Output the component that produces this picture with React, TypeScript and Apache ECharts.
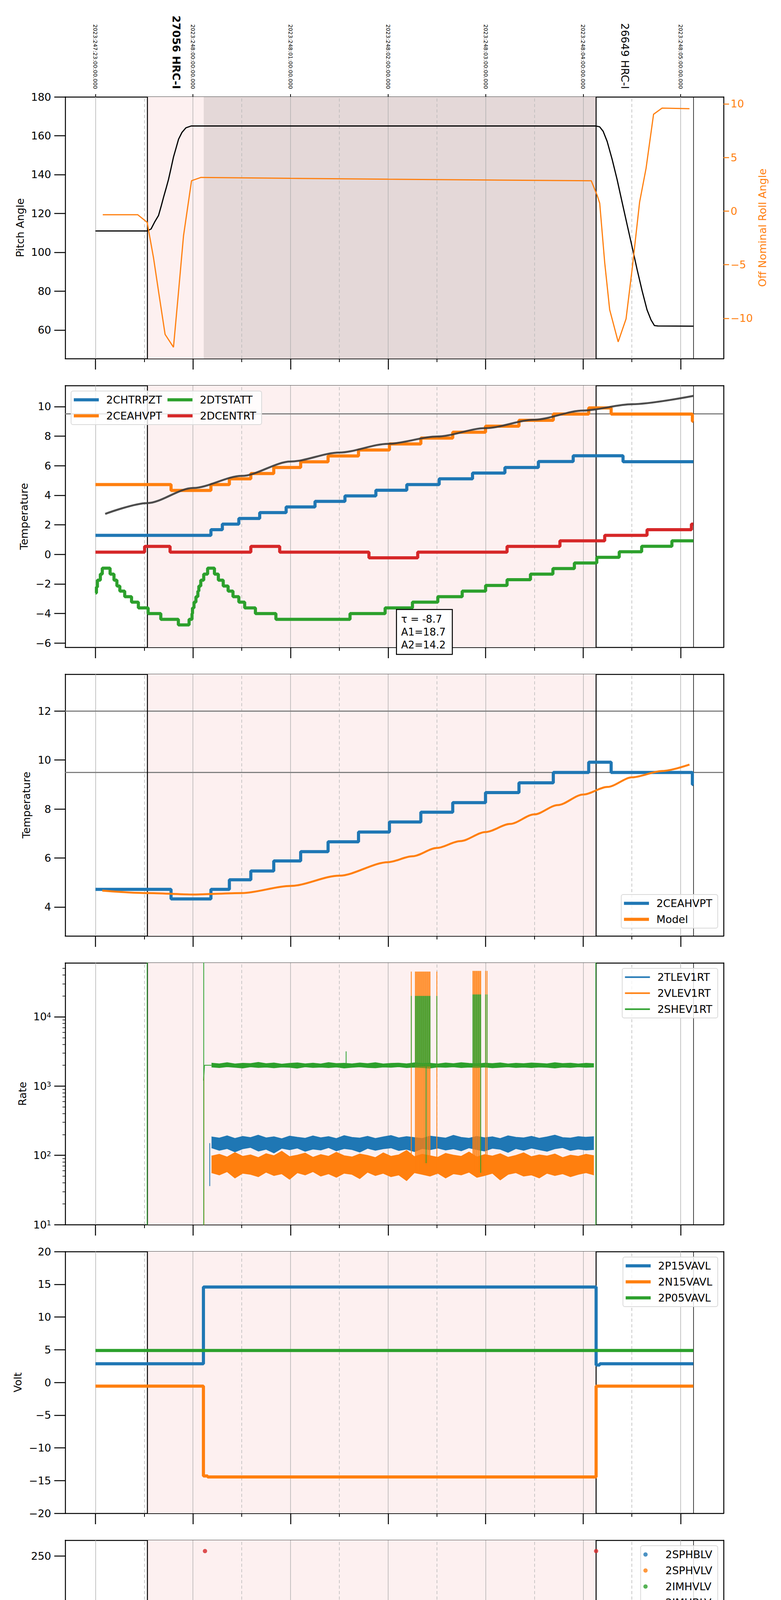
import React, { useEffect, useRef } from "react";
import * as echarts from "echarts";

const FONT = "DejaVu Sans";
const BLUE = "#1f77b4";
const ORANGE = "#ff7f0e";
const GREEN = "#2ca02c";
const RED = "#d62728";
const PINK = "#fdf0f0";
const MAUVE = "#e4d8d8";

// time axis: local hours, 24 = 00h of the next day
const X_MIN = 18.69;
const X_MAX = 25.44;
const hourTicks = [19, 20, 21, 22, 23, 24, 25];
const halfTicks = [19.5, 20.5, 21.5, 22.5, 23.5, 24.5];
const utcLabels = [
  "2023:247:23:00:00.000",
  "2023:248:00:00:00.000",
  "2023:248:01:00:00.000",
  "2023:248:02:00:00.000",
  "2023:248:03:00:00.000",
  "2023:248:04:00:00.000",
  "2023:248:05:00:00.000",
];
const obsLabelTimes = [19.83, 24.43];
const obsLabels = ["27056 HRC-I", "26649 HRC-I"];
const obsBold = [true, false];
const OBS_START = 19.53;
const OBS_END = 24.13;
const HRC_ON = 20.11;
const DATA_END = 25.13;

// panel 1: pitch / roll
const pitch = [
  [19.0, 111], [19.53, 111], [19.57, 112], [19.606, 115.5], [19.647, 119], [19.673, 123.6], [19.698, 128.3],
  [19.724, 132.9], [19.749, 137.5], [19.775, 143.3], [19.8, 149], [19.826, 153.6], [19.852, 158.2], [19.887, 161.7],
  [19.928, 164.1], [19.98, 165], [24.133, 165], [24.169, 164.6], [24.205, 162.3], [24.246, 157.1], [24.297, 147.9],
  [24.348, 137.5], [24.399, 125.9], [24.45, 114.4], [24.502, 102.8], [24.553, 91.2], [24.604, 80.3], [24.655, 70.4],
  [24.696, 65.2], [24.731, 62.3], [24.767, 62.1], [25.13, 62],
];
const roll = [
  [19.075, -0.34], [19.433, -0.34], [19.53, -1.05], [19.596, -4.4], [19.647, -7.5], [19.714, -11.5], [19.8, -12.7],
  [19.852, -7.5], [19.903, -2.3], [19.985, 2.83], [20.082, 3.14], [21.0, 3.05], [22.0, 2.97], [23.0, 2.9], [24.083, 2.83],
  [24.144, 1.46], [24.17, 0.73], [24.221, -4.8], [24.272, -9.2], [24.359, -12.2], [24.44, -10.05], [24.502, -5.44],
  [24.579, 0.84], [24.645, 3.98], [24.722, 9.03], [24.809, 9.6], [25.09, 9.55],
];

// panel 2 / 3: temperatures (step series)
const chtrpzt = [
  [19.0, 1.29], [20.184, 1.67], [20.301, 2.05], [20.47, 2.43], [20.684, 2.83], [20.955, 3.21], [21.251, 3.59],
  [21.558, 3.96], [21.875, 4.34], [22.192, 4.72], [22.524, 5.11], [22.866, 5.5], [23.198, 5.88], [23.541, 6.28],
  [23.898, 6.67], [24.409, 6.27], [25.13, 6.27],
];
const ceahvpt = [
  [19.0, 4.72], [19.775, 4.33], [20.184, 4.72], [20.373, 5.11], [20.593, 5.47], [20.828, 5.88], [21.104, 6.26],
  [21.385, 6.66], [21.697, 7.06], [22.014, 7.47], [22.336, 7.87], [22.663, 8.26], [22.999, 8.67], [23.342, 9.07],
  [23.694, 9.49], [24.057, 9.91], [24.287, 9.49], [25.12, 9.0], [25.13, 9.0],
];
const dtstatt = [
  [19.0, -2.61], [19.01, -2.21], [19.02, -1.74], [19.05, -1.33], [19.07, -0.93], [19.15, -1.33], [19.19, -1.74],
  [19.22, -2.14], [19.25, -2.48], [19.3, -2.86], [19.37, -3.23], [19.44, -3.62], [19.54, -4.0], [19.67, -4.39],
  [19.85, -4.77], [19.96, -4.39], [19.99, -4.0], [19.995, -3.62], [20.01, -3.23], [20.03, -2.86], [20.05, -2.48],
  [20.06, -2.14], [20.08, -1.74], [20.11, -1.33], [20.15, -0.93], [20.22, -1.33], [20.26, -1.74], [20.31, -2.14],
  [20.36, -2.48], [20.41, -2.86], [20.47, -3.23], [20.53, -3.62], [20.64, -4.0], [20.85, -4.39], [21.61, -4.0],
  [21.97, -3.62], [22.25, -3.23], [22.51, -2.86], [22.76, -2.48], [23.0, -2.1], [23.22, -1.71], [23.46, -1.33],
  [23.69, -0.96], [23.91, -0.58], [24.14, -0.2], [24.37, 0.18], [24.6, 0.55], [24.91, 0.92], [25.13, 0.92],
];
const dcentrt = [
  [19.0, 0.15], [19.504, 0.54], [19.765, 0.15], [20.593, 0.54], [20.889, 0.15], [21.804, -0.23], [22.304, 0.15],
  [23.22, 0.54], [23.762, 0.92], [24.221, 1.29], [24.655, 1.67], [25.11, 2.05], [25.13, 2.05],
];
const ceaFit = [
  [19.1, 2.74], [19.53, 3.47], [20.0, 4.49], [20.5, 5.31], [21.0, 6.28], [21.5, 6.89], [22.0, 7.48], [22.5, 7.97],
  [23.0, 8.54], [23.5, 9.11], [24.0, 9.73], [24.5, 10.16], [25.13, 10.72],
];
const ceaModel = [
  [19.07, 4.67], [19.53, 4.57], [20.0, 4.51], [20.5, 4.57], [21.0, 4.86], [21.5, 5.28], [22.0, 5.83], [22.25, 6.07],
  [22.5, 6.41], [22.74, 6.69], [23.0, 7.06], [23.25, 7.39], [23.5, 7.78], [23.74, 8.16], [24.0, 8.59], [24.25, 8.9],
  [24.5, 9.29], [24.81, 9.55], [25.09, 9.81],
];
const fitText = "τ = -8.7\nA1=18.7\nA2=14.2";

// panel 4: rates (noise bands as envelopes)
const bandTimes = [
  20.19, 20.27, 20.35, 20.43, 20.51, 20.59, 20.67, 20.75, 20.83, 20.91, 20.99, 21.07, 21.15, 21.23, 21.31, 21.39, 21.47,
  21.55, 21.63, 21.71, 21.79, 21.87, 21.95, 22.03, 22.11, 22.19, 22.27, 22.35, 22.43, 22.51, 22.59, 22.67, 22.75, 22.83,
  22.91, 22.99, 23.07, 23.15, 23.23, 23.31, 23.39, 23.47, 23.55, 23.63, 23.71, 23.79, 23.87, 23.95, 24.03, 24.11,
];
const tlevHi = [185, 178, 192, 176, 188, 181, 196, 179, 186, 174, 190, 183, 177, 191, 180, 187, 175, 193, 182, 178, 189, 176, 185, 194, 179, 187, 181, 176, 190, 184, 178, 195, 182, 177, 188, 180, 186, 175, 192, 183, 179, 189, 177, 185, 196, 181, 178, 187, 183, 186];
const tlevLo = [128, 118, 125, 112, 124, 130, 115, 122, 108, 126, 120, 127, 114, 123, 119, 129, 116, 125, 121, 111, 126, 118, 124, 128, 117, 122, 113, 125, 120, 127, 119, 124, 116, 128, 121, 115, 126, 122, 110, 125, 118, 127, 120, 114, 124, 129, 117, 123, 119, 121];
const vlevHi = [98, 104, 95, 110, 97, 102, 93, 106, 99, 115, 96, 101, 108, 94, 103, 97, 111, 99, 95, 105, 100, 93, 109, 97, 102, 118, 96, 104, 99, 94, 107, 101, 97, 112, 95, 103, 98, 106, 94, 100, 109, 96, 102, 98, 105, 93, 101, 97, 104, 99];
const vlevLo = [56, 52, 58, 47, 55, 53, 49, 57, 51, 54, 45, 56, 52, 58, 50, 54, 48, 55, 53, 46, 57, 51, 55, 49, 52, 43, 56, 53, 50, 55, 47, 54, 52, 57, 48, 51, 55, 44, 53, 56, 50, 52, 47, 55, 51, 54, 49, 53, 56, 52];
const shevHi = [2150, 2100, 2180, 2090, 2140, 2120, 2200, 2110, 2160, 2080, 2130, 2170, 2100, 2150, 2090, 2190, 2120, 2140, 2100, 2160, 2110, 2180, 2090, 2130, 2150, 2100, 2170, 2120, 2140, 2090, 2160, 2110, 2180, 2130, 2100, 2150, 2120, 2170, 2090, 2140, 2110, 2160, 2130, 2100, 2180, 2120, 2150, 2090, 2140, 2110];
const shevLo = [1880, 1840, 1900, 1860, 1820, 1890, 1850, 1870, 1830, 1880, 1860, 1810, 1890, 1850, 1870, 1840, 1880, 1820, 1860, 1890, 1850, 1830, 1880, 1860, 1900, 1840, 1870, 1850, 1820, 1880, 1860, 1890, 1840, 1870, 1850, 1880, 1830, 1860, 1890, 1850, 1870, 1840, 1880, 1860, 1820, 1870, 1850, 1890, 1860, 1880];
const rateMinorTicks = [20, 30, 40, 50, 60, 70, 80, 90, 200, 300, 400, 500, 600, 700, 800, 900, 2000, 3000, 4000, 5000, 6000, 7000, 8000, 9000, 20000, 30000, 40000, 50000];
// disturbance bursts (spike times, hours)
const burst1 = [22.238, 22.28, 22.29, 22.3, 22.31, 22.32, 22.33, 22.34, 22.35, 22.36, 22.37, 22.38, 22.39, 22.4, 22.41, 22.42, 22.43, 22.5];
const burst2 = [22.87, 22.88, 22.89, 22.9, 22.91, 22.92, 22.93, 22.94, 22.95, 23.0, 23.015];
const tlevSpikes = [[20.172, 36, 150]];
const vlevSpikes = [[20.112, 1, 1700]];
const shevSpikes = [[19.53, 1, 1e6], [20.11, 1, 1e6], [24.13, 1, 1e6], [21.57, 1900, 3170], [22.39, 77, 1900], [22.95, 56, 1900]];
const shevRise = [[20.108, 1200], [20.118, 2000], [20.19, 2000]];

// panel 5: voltages
const p15 = [[19.0, 2.85], [20.107, 14.58], [24.133, 2.65], [24.17, 2.85], [25.13, 2.85]];
const n15 = [[19.0, -0.56], [20.107, -14.3], [20.15, -14.45], [24.133, -0.56], [25.13, -0.56]];
const p05 = [[19.0, 4.88], [25.13, 4.88]];

// panel 6: HV monitors
const sphblv: number[][] = [];
const sphvlv: number[][] = [];
const imhvlvLevel = [[20.184, 79], [24.133, 79]];
const imhvlvPts = [[20.133, 100], [20.143, 95], [20.154, 90], [20.164, 86], [20.174, 83], [20.184, 80], [22.243, 127], [22.319, 127], [22.35, 127], [22.411, 127], [23.014, 127]];
const imhblvLevel = [[20.19, 86], [24.133, 86]];
const imhblvPts = [[20.123, 255], [24.133, 255], [20.133, 127], [20.135, 119], [20.138, 106], [20.149, 101], [20.158, 97], [20.164, 94], [20.174, 90], [20.184, 87], [22.243, 79], [22.319, 79], [22.35, 79], [22.411, 79], [23.014, 79]];

// panel 7: detector temps
const spinatm = [
  [20.13, -3], [20.133, 7.5], [20.158, 8.02], [20.2, 7.51], [20.23, 7.0], [20.26, 6.49], [20.29, 5.98], [20.332, 5.54],
  [20.373, 5.08], [20.429, 4.62], [20.505, 4.16], [20.603, 3.69], [20.756, 3.24], [21.078, 2.8], [22.243, 3.24],
  [23.143, 3.69], [23.812, 4.16], [24.133, -3],
];
const sphvatm = [
  [20.105, -3], [20.107, 14.15], [20.158, 13.88], [20.552, 14.15], [20.91, 14.44], [21.206, 14.7], [21.487, 14.99],
  [21.768, 15.27], [22.059, 15.55], [22.304, 15.82], [22.601, 16.1], [22.866, 16.38], [23.143, 16.67], [23.44, 16.96],
  [23.745, 17.24], [24.041, 17.53], [24.133, -3],
];
const iminatm = [[20.105, -3], [20.107, 0.66], [21.283, 1.1], [22.535, 1.53], [23.44, 1.94], [24.133, -3]];
const imhvatm = [
  [20.105, -3], [20.107, 13.34], [20.235, 13.6], [20.363, 13.88], [20.449, 14.15], [20.567, 14.44], [20.669, 14.7],
  [20.797, 14.99], [20.925, 15.27], [21.078, 15.55], [21.242, 15.82], [21.41, 16.1], [21.64, 16.38], [21.87, 16.67],
  [22.125, 16.96], [22.329, 17.24], [22.61, 17.53], [22.866, 17.86], [23.133, 18.13], [23.429, 18.4], [23.725, 18.7],
  [24.031, 18.99], [24.133, -3],
];

// panel 8: FEA temps
const fhtrmzt = [
  [20.32, -12], [20.322, -9.22], [20.439, -8.78], [20.552, -8.38], [20.669, -7.97], [20.782, -7.57], [20.889, -7.16],
  [21.006, -6.77], [21.119, -6.37], [21.242, -5.96], [21.359, -5.58], [21.471, -5.19], [21.589, -4.81], [21.717, -4.42],
  [21.844, -4.03], [21.988, -3.65], [22.115, -3.26], [22.243, -2.87], [22.45, -2.49], [22.509, -2.1], [22.647, -1.74],
  [22.79, -1.35], [22.928, -0.97], [23.076, -0.61], [23.23, -0.22], [23.373, 0.15], [23.521, 0.52], [23.694, 0.91],
  [23.852, 1.28], [24.016, 1.66], [24.195, 2.05], [24.629, 1.66], [24.87, 1.3], [25.1, 0.91], [25.13, 0.91],
];
const fradpyt = [
  [20.69, -12], [20.695, -9.22], [20.813, -8.79], [20.93, -8.4], [21.052, -7.99], [21.17, -7.58], [21.298, -7.18],
  [21.42, -6.79], [21.548, -6.39], [21.681, -5.99], [21.819, -5.6], [21.957, -5.2], [22.1, -4.81], [22.243, -4.43],
  [22.391, -4.03], [22.535, -3.65], [22.677, -3.26], [22.83, -2.87], [22.979, -2.5], [23.133, -2.12], [23.297, -1.74],
  [23.465, -1.37], [23.623, -0.98], [23.802, -0.61], [23.98, -0.23], [24.169, 0.15], [24.629, -0.23], [24.706, -0.61],
  [24.793, -0.98], [24.885, -1.37], [25.003, -1.75], [25.13, -1.75],
];
const fepratm = [
  [20.12, -12], [20.123, -8.67], [20.149, -8.23], [20.209, -7.82], [20.26, -7.41], [20.317, -7.0], [20.378, -6.6],
  [20.444, -6.2], [20.505, -5.79], [20.567, -5.38], [20.659, -5.0], [20.772, -4.61], [20.874, -4.2], [20.986, -3.8],
  [21.104, -3.4], [21.221, -3.0], [21.344, -2.6], [21.476, -2.22], [21.599, -1.83], [21.742, -1.43], [21.88, -1.04],
  [22.024, -0.64], [22.161, -0.24], [22.304, 0.1], [22.458, 0.4], [22.509, 0.7], [22.636, 1.08], [22.815, 1.52],
  [22.994, 1.93], [23.143, 2.36], [23.322, 2.82], [23.516, 3.27], [23.705, 3.72], [23.898, 4.15], [24.133, -12],
];
const fe00atm = [
  [20.105, -12], [20.107, -7.85], [20.2, -7.46], [20.311, -7.07], [20.388, -6.72], [20.475, -6.35], [20.557, -5.96],
  [20.644, -5.58], [20.756, -5.24], [20.848, -4.9], [20.991, -4.52], [21.078, -4.18], [21.18, -3.79], [21.257, -3.45],
  [21.369, -3.12], [21.446, -2.78], [21.548, -2.44], [21.65, -2.1], [21.768, -1.76], [21.855, -1.43], [21.972, -1.11],
  [22.074, -0.77], [22.176, -0.43], [22.304, -0.12], [22.406, 0.5], [22.458, 0.79], [22.636, 1.13], [22.713, 1.47],
  [22.815, 1.76], [22.994, 2.07], [23.092, 2.36], [23.21, 2.68], [23.322, 2.97], [23.434, 3.25], [23.572, 3.54],
  [23.694, 3.8], [23.837, 4.1], [24.0, 4.4], [24.133, -12],
];
const fhtrSpikes = [[20.593, -12, -8.38], [20.838, -12, -7.57], [22.447, -2.87, -1.7], [23.516, 0.15, 0.9]];
const feSpikes = [[22.391, -20, 10]];

const GRID_TOPS = [248, 987, 1726, 2465, 3204, 3943, 4682, 5421];
const GRID_LEFT = 167;
const GRID_W = 1686;
const GRID_H = 670;

const minus = (v: number, digits = 0) => {
  const s = Math.abs(v).toFixed(digits);
  return v < 0 ? "\u2212" + s : s;
};
const near = (arr: number[], v: number) => arr.findIndex((a) => Math.abs(a - v) < 1e-6);
const fmtHour = (v: number) => {
  const h = Math.round(v) % 24;
  return (h < 10 ? "0" : "") + h + "h";
};

const spikes = (list: number[][]) => list.flatMap(([t, lo, hi]) => [[t, lo], [t, hi], [t, "-"]]);
const burst = (times: number[], lo: number, hi: number) => times.map((t) => [t, lo, hi]);

const BLACK_LINE = { color: "#000", width: 2.5 };

function leftAxis(g: number, name: string, min: number, max: number, ticks: number[], nameGap: number, digits = 0): any {
  return {
    type: "value", gridIndex: g, position: "left", min, max,
    name, nameLocation: "middle", nameGap,
    nameTextStyle: { fontSize: 27, color: "#000", fontFamily: FONT },
    axisLine: { show: true, onZero: false, lineStyle: BLACK_LINE },
    axisTick: { show: true, inside: false, length: 28, customValues: ticks, lineStyle: BLACK_LINE },
    axisLabel: { show: true, customValues: ticks, margin: 36, fontSize: 27, color: "#000", fontFamily: FONT, formatter: (v: number) => minus(v, digits) },
    splitLine: { show: false },
  };
}
function rightSpine(g: number): any {
  return {
    type: "value", gridIndex: g, position: "right", min: 0, max: 1,
    axisLine: { show: true, onZero: false, lineStyle: BLACK_LINE },
    axisTick: { show: false }, axisLabel: { show: false }, splitLine: { show: false },
  };
}

function frame(g: number, hLines: number[] = [], extraAreas: any[] = []): any {
  return {
    type: "line", xAxisIndex: 3 * g, yAxisIndex: 2 * g, data: [], silent: true, z: 1,
    markArea: {
      silent: true, z: 1, label: { show: false },
      data: [[{ xAxis: OBS_START, itemStyle: { color: PINK } }, { xAxis: OBS_END }], ...extraAreas],
    },
    markLine: {
      silent: true, z: 2, symbol: ["none", "none"], label: { show: false }, emphasis: { disabled: true }, animation: false,
      data: [
        ...hourTicks.map((h) => ({ xAxis: h, lineStyle: { color: "#b0b0b0", width: 1.5, type: "solid" } })),
        ...halfTicks.map((h) => ({ xAxis: h, lineStyle: { color: "#b8b8b8", width: 1.5, type: [8, 6] } })),
        ...hLines.map((y) => ({ yAxis: y, lineStyle: { color: "#808080", width: 3, type: "solid" } })),
        { xAxis: OBS_START, lineStyle: { color: "#000", width: 2.5, type: "solid" } },
        { xAxis: OBS_END, lineStyle: { color: "#000", width: 2.5, type: "solid" } },
        { xAxis: DATA_END, lineStyle: { color: "#000", width: 1.5, type: "solid" } },
      ],
    },
  };
}

function line(g: number, name: string, color: string, data: any[], o: any = {}): any {
  return {
    type: "line", name, xAxisIndex: 3 * g, yAxisIndex: o.y ?? 2 * g, data, color,
    symbol: "none", showSymbol: false, step: o.step ?? false, smooth: o.smooth ?? false,
    smoothMonotone: "x", connectNulls: false, clip: true, silent: true, z: o.z ?? 3,
    emphasis: { disabled: true },
    lineStyle: { color, width: o.width ?? 8, opacity: o.opacity ?? 1, cap: o.cap ?? "butt" },
  };
}

// noise band: lower edge + stacked (upper - lower) filled; value column first so it is the stacked one
function band(g: number, name: string, color: string, times: number[], lo: number[], hi: number[], key: string): any[] {
  const enc = { x: 1, y: 0 };
  return [
    { ...line(g, name, color, times.map((t, i) => [lo[i], t]), { width: 1.5 }), stack: key, encode: enc },
    {
      ...line(g, name, color, times.map((t, i) => [hi[i] - lo[i], t]), { width: 1.5 }),
      stack: key, encode: enc, areaStyle: { color, opacity: 1 },
    },
  ];
}

function scatter(g: number, name: string, color: string, data: any[]): any {
  return {
    type: "scatter", name, xAxisIndex: 3 * g, yAxisIndex: 2 * g, data, color, symbolSize: 11,
    itemStyle: { color }, silent: true, z: 4, emphasis: { disabled: true },
  };
}

function buildOption(): any {
  const grid = GRID_TOPS.map((top) => ({ left: GRID_LEFT, top, width: GRID_W, height: GRID_H, outerBoundsMode: "none" }));

  const xAxis: any[] = [];
  GRID_TOPS.forEach((_, g) => {
    const last = g === GRID_TOPS.length - 1;
    xAxis.push({
      type: "value", gridIndex: g, position: "bottom", min: X_MIN, max: X_MAX,
      axisLine: { show: true, onZero: false, lineStyle: BLACK_LINE },
      axisTick: { show: true, length: 28, customValues: hourTicks, lineStyle: BLACK_LINE },
      axisLabel: { show: last, customValues: hourTicks, margin: 36, fontSize: 27, color: "#000", fontFamily: FONT, formatter: fmtHour },
      splitLine: { show: false },
      name: last ? "2023-09-05 (248)" : undefined, nameLocation: "middle", nameGap: 70,
      nameTextStyle: { fontSize: 34, color: "#000", fontFamily: FONT },
    });
    xAxis.push({
      type: "value", gridIndex: g, position: "bottom", min: X_MIN, max: X_MAX,
      axisLine: { show: false, onZero: false },
      axisTick: { show: true, length: 9, customValues: halfTicks, lineStyle: { color: "#000", width: 2 } },
      axisLabel: { show: last, customValues: halfTicks, margin: 8, fontSize: 17, color: "#000", fontFamily: FONT, formatter: () => "30" },
      splitLine: { show: false },
    });
    xAxis.push({
      type: "value", gridIndex: g, position: "top", min: X_MIN, max: X_MAX,
      axisLine: { show: true, onZero: false, lineStyle: BLACK_LINE },
      axisTick: { show: g === 0, length: 7, customValues: hourTicks, lineStyle: { color: "#000", width: 2 } },
      axisLabel: {
        show: g === 0, customValues: hourTicks, rotate: 90, margin: 20, fontSize: 14, color: "#000", fontFamily: FONT,
        formatter: (v: number) => utcLabels[near(hourTicks, v)] ?? "",
      },
      splitLine: { show: false },
    });
  });
  xAxis.push({
    type: "value", gridIndex: 0, position: "top", min: X_MIN, max: X_MAX,
    axisLine: { show: false, onZero: false }, axisTick: { show: false }, splitLine: { show: false },
    axisLabel: {
      show: true, customValues: obsLabelTimes, rotate: 90, margin: 20, color: "#000", fontFamily: FONT,
      formatter: (v: number) => {
        const k = near(obsLabelTimes, v);
        if (k < 0) return "";
        return obsBold[k] ? `{b|${obsLabels[k]}}` : `{n|${obsLabels[k]}}`;
      },
      rich: {
        b: { fontSize: 27, fontWeight: "bold", color: "#000", fontFamily: FONT },
        n: { fontSize: 27, color: "#000", fontFamily: FONT },
      },
    },
  });

  const yAxis: any[] = [
    leftAxis(0, "Pitch Angle", 45.3, 180, [60, 80, 100, 120, 140, 160, 180], 102),
    {
      type: "value", gridIndex: 0, position: "right", min: -13.76, max: 10.65,
      name: "Off Nominal Roll Angle", nameLocation: "middle", nameGap: 86,
      nameTextStyle: { fontSize: 27, color: ORANGE, fontFamily: FONT },
      axisLine: { show: true, onZero: false, lineStyle: BLACK_LINE },
      axisTick: { show: true, length: 14, customValues: [-10, -5, 0, 5, 10], lineStyle: { color: ORANGE, width: 2.5 } },
      axisLabel: { customValues: [-10, -5, 0, 5, 10], margin: 18, fontSize: 27, color: ORANGE, fontFamily: FONT, formatter: (v: number) => minus(v) },
      splitLine: { show: false },
    },
    leftAxis(1, "Temperature", -6.28, 11.42, [-6, -4, -2, 0, 2, 4, 6, 8, 10], 92),
    rightSpine(1),
    leftAxis(2, "Temperature", 2.82, 13.5, [4, 6, 8, 10, 12], 86),
    rightSpine(2),
    {
      type: "log", logBase: 10, gridIndex: 3, position: "left", min: 10, max: 60000,
      name: "Rate", nameLocation: "middle", nameGap: 96,
      nameTextStyle: { fontSize: 27, color: "#000", fontFamily: FONT },
      axisLine: { show: true, onZero: false, lineStyle: BLACK_LINE },
      axisTick: { show: true, length: 28, lineStyle: BLACK_LINE },
      axisLabel: {
        margin: 36, showMaxLabel: false, color: "#000", fontFamily: FONT,
        formatter: (v: number) => `{b|10}{s|${Math.round(Math.log10(v))}}`,
        rich: { b: { fontSize: 27, color: "#000", fontFamily: FONT }, s: { fontSize: 18, color: "#000", fontFamily: FONT, verticalAlign: "top" } },
      },
      splitLine: { show: false },
    },
    rightSpine(3),
    leftAxis(4, "Volt", -20, 20, [-20, -15, -10, -5, 0, 5, 10, 15, 20], 108),
    rightSpine(4),
    leftAxis(5, "HV Monitor", 0, 266, [0, 50, 100, 150, 200, 250], 103),
    rightSpine(5),
    leftAxis(6, "Detector Temp", -0.85, 19.29, [0, 2.5, 5, 7.5, 10, 12.5, 15, 17.5], 112, 1),
    rightSpine(6),
    leftAxis(7, "FEA Temp", -9.5, 3.83, [-8, -6, -4, -2, 0, 2], 91),
    rightSpine(7),
    {
      type: "log", logBase: 10, gridIndex: 3, position: "left", min: 10, max: 60000,
      axisLine: { show: false, onZero: false },
      axisTick: { show: true, length: 7, customValues: rateMinorTicks, lineStyle: { color: "#000", width: 1.5 } },
      axisLabel: { show: false }, splitLine: { show: false },
    },
  ];

  const series: any[] = [
    // panel 1
    frame(0, [], [[{ xAxis: HRC_ON, itemStyle: { color: MAUVE } }, { xAxis: OBS_END }]]),
    line(0, "Pitch", "#000", pitch, { width: 3 }),
    line(0, "Roll", ORANGE, roll, { width: 3, y: 1 }),
    // panel 2
    frame(1, [9.5]),
    line(1, "2CHTRPZT", BLUE, chtrpzt, { step: "end" }),
    line(1, "2CEAHVPT", ORANGE, ceahvpt, { step: "end" }),
    line(1, "2DTSTATT", GREEN, dtstatt, { step: "end" }),
    line(1, "2DCENTRT", RED, dcentrt, { step: "end" }),
    line(1, "fit", "#3a3a3a", ceaFit, { width: 5, smooth: 0.3, opacity: 0.9, z: 4 }),
    // panel 3
    frame(2, [12, 9.5]),
    line(2, "2CEAHVPT|P3", BLUE, ceahvpt, { step: "end" }),
    line(2, "Model", ORANGE, ceaModel, { width: 5, smooth: 0.3 }),
    // panel 4
    frame(3),
    ...band(3, "2TLEV1RT", BLUE, bandTimes, tlevLo, tlevHi, "tlev"),
    line(3, "2TLEV1RT", BLUE, spikes(tlevSpikes), { width: 2 }),
    ...band(3, "2VLEV1RT", ORANGE, bandTimes, vlevLo, vlevHi, "vlev"),
    line(3, "2VLEV1RT", ORANGE, spikes([...vlevSpikes, ...burst(burst1, 60, 45000), ...burst(burst2, 60, 46000)]), { width: 2 }),
    ...band(3, "2SHEV1RT", GREEN, bandTimes, shevLo, shevHi, "shev"),
    line(3, "2SHEV1RT", GREEN, shevRise, { width: 2 }),
    line(3, "2SHEV1RT", GREEN, spikes([...shevSpikes, ...burst(burst1, 1900, 20000), ...burst(burst2, 1900, 21000)]), { width: 2 }),
    // panel 5
    frame(4),
    line(4, "2P15VAVL", BLUE, p15, { step: "end" }),
    line(4, "2N15VAVL", ORANGE, n15, { step: "end" }),
    line(4, "2P05VAVL", GREEN, p05, { step: "end" }),
    // panel 6
    frame(5),
    scatter(5, "2SPHBLV", BLUE, sphblv),
    scatter(5, "2SPHVLV", ORANGE, sphvlv),
    scatter(5, "2IMHVLV", GREEN, imhvlvPts),
    line(5, "2IMHVLV", GREEN, imhvlvLevel, { width: 13, cap: "round", z: 4 }),
    scatter(5, "2IMHBLV", RED, imhblvPts),
    line(5, "2IMHBLV", RED, imhblvLevel, { width: 11, cap: "round", z: 4 }),
    // panel 7
    frame(6),
    line(6, "2SPINATM", BLUE, spinatm, { step: "end" }),
    line(6, "2SPINATM", BLUE, spikes([...burst(burst1, -3, 3.24), ...burst(burst2, -3, 3.24)]), { width: 6 }),
    line(6, "2SPHVATM", ORANGE, sphvatm, { step: "end" }),
    line(6, "2SPHVATM", ORANGE, spikes([...burst(burst1, 10.87, 15.82), ...burst(burst2, 11.38, 16.38)]), { width: 6 }),
    line(6, "2IMINATM", GREEN, iminatm, { step: "end" }),
    line(6, "2IMINATM", GREEN, spikes([...burst(burst1, 1.1, 3.35), ...burst(burst2, 1.53, 3.35)]), { width: 6 }),
    line(6, "2IMHVATM", RED, imhvatm, { step: "end" }),
    line(6, "2IMHVATM", RED, spikes([...burst(burst1, 15.5, 17.24), ...burst(burst2, 16.33, 17.86)]), { width: 6 }),
    // panel 8
    frame(7),
    line(7, "2FHTRMZT", BLUE, fhtrmzt, { step: "end" }),
    line(7, "2FHTRMZT", BLUE, spikes(fhtrSpikes), { width: 6 }),
    line(7, "2FRADPYT", ORANGE, fradpyt, { step: "end" }),
    line(7, "2FEPRATM", GREEN, fepratm, { step: "end" }),
    line(7, "2FEPRATM", GREEN, spikes([...burst(burst1, -4.7, 0.4), ...burst(burst2, -4.7, 1.52)]), { width: 6 }),
    line(7, "2FE00ATM", RED, fe00atm, { step: "end" }),
    line(7, "2FE00ATM", RED, spikes([...feSpikes, ...burst(burst1, 0, 10), ...burst(burst2, 1.76, 10)]), { width: 6 }),
  ];

  const legendBase: any = {
    orient: "vertical", icon: "rect", itemWidth: 64, itemHeight: 8, itemGap: 14, selectedMode: false,
    padding: [9, 14, 9, 7], backgroundColor: "rgba(255,255,255,0.8)",
    borderColor: "#d9d9d9", borderWidth: 2, borderRadius: 5,
    textStyle: { fontSize: 27, color: "#000", fontFamily: FONT, padding: [0, 0, 0, 14] },
  };
  const legend = [
    {
      ...legendBase, orient: "horizontal", left: 182, top: 1001, width: 600,
      data: ["2CHTRPZT", "2DTSTATT", "2CEAHVPT", "2DCENTRT"],
      textStyle: { ...legendBase.textStyle, width: 180 },
    },
    { ...legendBase, right: 162, top: 2290, data: ["2CEAHVPT|P3", "Model"], formatter: (n: string) => n.split("|")[0] },
    { ...legendBase, right: 162, top: 2479, itemHeight: 4, data: ["2TLEV1RT", "2VLEV1RT", "2SHEV1RT"] },
    { ...legendBase, right: 162, top: 3218, data: ["2P15VAVL", "2N15VAVL", "2P05VAVL"] },
    { ...legendBase, right: 162, top: 3957, icon: "circle", itemHeight: 11, data: ["2SPHBLV", "2SPHVLV", "2IMHVLV", "2IMHBLV"] },
    { ...legendBase, right: 162, top: 4695, data: ["2SPINATM", "2SPHVATM", "2IMINATM", "2IMHVATM"] },
    { ...legendBase, right: 162, top: 5902, data: ["2FHTRMZT", "2FRADPYT", "2FEPRATM", "2FE00ATM"] },
  ];

  const graphic = [
    {
      type: "group", left: 1014, top: 1559, z: 100,
      children: [
        { type: "rect", z: 100, shape: { x: 0, y: 0, width: 143, height: 115 }, style: { fill: "#fff", stroke: "#000", lineWidth: 2.5 } },
        { type: "text", z: 101, x: 12, y: 8, style: { text: fitText, fontSize: 26, lineHeight: 33, fill: "#000", fontFamily: FONT } },
      ],
    },
  ];

  return {
    animation: false,
    backgroundColor: "#fff",
    textStyle: { fontFamily: FONT },
    grid, xAxis, yAxis, series, legend, graphic,
  };
}

export default function App() {
  const ref = useRef<HTMLDivElement>(null);
  useEffect(() => {
    document.body.style.margin = "0";
    const chart = echarts.init(ref.current!, null, { renderer: "svg" });
    chart.setOption(buildOption());
    return () => chart.dispose();
  }, []);
  return <div ref={ref} style={{ width: 2000, height: 6200 }} />;
}
